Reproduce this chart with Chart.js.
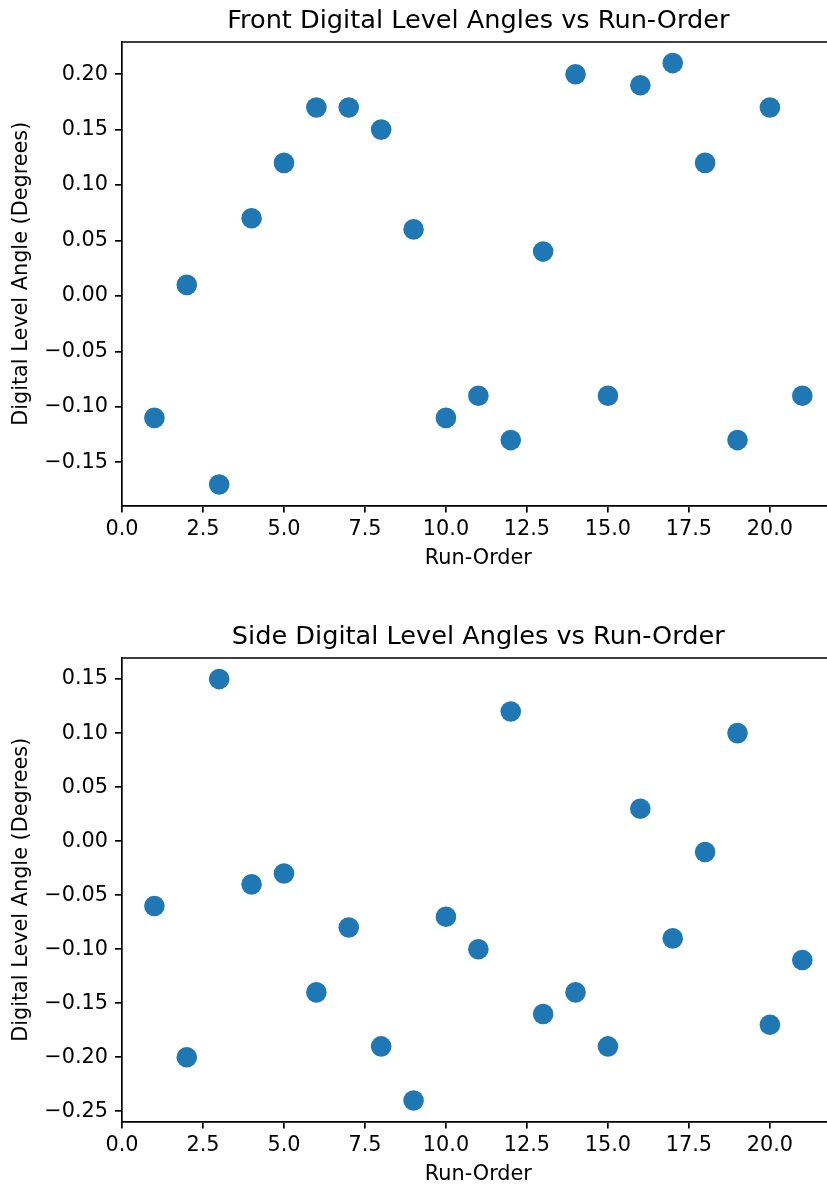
<!DOCTYPE html>
<html><head><meta charset="utf-8">
<script src="https://cdn.jsdelivr.net/npm/chart.js@4.4.1/dist/chart.umd.min.js"></script>
<style>
html,body{margin:0;padding:0;overflow:hidden;background:#fff;width:827px;height:1188px;position:relative}
canvas{position:absolute;left:0}
</style></head>
<body>
<canvas id="c1" style="top:0px"></canvas>
<canvas id="c2" style="top:616px"></canvas>
<script>
const runOrder = [1,2,3,4,5,6,7,8,9,10,11,12,13,14,15,16,17,18,19,20,21];
const frontAngles = [-0.11,0.01,-0.17,0.07,0.12,0.17,0.17,0.15,0.06,-0.11,-0.09,-0.13,0.04,0.20,-0.09,0.19,0.21,0.12,-0.13,0.17,-0.09];
const sideAngles = [-0.06,-0.20,0.15,-0.04,-0.03,-0.14,-0.08,-0.19,-0.24,-0.07,-0.10,0.12,-0.16,-0.14,-0.19,0.03,-0.09,-0.01,0.10,-0.17,-0.11];
const xTicks = [0,2.5,5,7.5,10,12.5,15,17.5,20];
const frontYTicks = [-0.15,-0.10,-0.05,0,0.05,0.10,0.15,0.20];
const sideYTicks = [-0.25,-0.20,-0.15,-0.10,-0.05,0,0.05,0.10,0.15];
const frontTitle = 'Front Digital Level Angles vs Run-Order';
const sideTitle = 'Side Digital Level Angles vs Run-Order';
const xLabel = 'Run-Order';
const yLabel = 'Digital Level Angle (Degrees)';

const FONT = "'DejaVu Sans', sans-serif";
const fmt = (v, d) => { if (Math.abs(v) < 1e-9) v = 0; const s = v.toFixed(d); return s.replace('-', '\u2212'); };

const topSpine = {
  id: 'topSpine',
  afterDraw(chart) {
    const a = chart.chartArea, ctx = chart.ctx;
    ctx.save();
    ctx.strokeStyle = '#000';
    ctx.lineWidth = 1.7;
    ctx.beginPath();
    ctx.moveTo(a.left - 0.85, a.top);
    ctx.lineTo(a.right, a.top);
    ctx.stroke();
    ctx.restore();
  }
};

function makeChart(id, title, values, yTicks, yMin, yMax) {
  const canvas = document.getElementById(id);
  canvas.width = 845; canvas.height = 594;
  return new Chart(canvas, {
    type: 'scatter',
    data: {
      datasets: [{
        data: runOrder.map((x, i) => ({x: x, y: values[i]})),
        backgroundColor: '#1f77b4',
        borderWidth: 0,
        pointRadius: 10.3,
        pointHoverRadius: 10.3
      }]
    },
    options: {
      responsive: false,
      animation: false,
      devicePixelRatio: 1,
      layout: {padding: {top: 0, left: 0, right: 10, bottom: 0}},
      plugins: {
        legend: {display: false},
        tooltip: {enabled: false},
        title: {
          display: true, text: title, color: '#000', fullSize: false,
          font: {family: FONT, size: 25.6, weight: 'normal', lineHeight: 1.2},
          padding: {top: 6, bottom: 5.3}
        }
      },
      scales: {
        x: {
          type: 'linear', min: 0, max: 22,
          afterBuildTicks: s => { s.ticks = xTicks.map(v => ({value: v})); },
          afterFit: s => { s.height = 88.5; },
          ticks: {callback: v => fmt(v, 1), color: '#000', font: {family: FONT, size: 20.8}, padding: 5, maxRotation: 0, autoSkip: false},
          grid: {drawOnChartArea: false, drawTicks: true, tickLength: 7, color: '#000', lineWidth: 1.7},
          border: {display: true, color: '#000', width: 1.7},
          title: {display: true, text: xLabel, color: '#000', font: {family: FONT, size: 20.8, lineHeight: 1.2}, padding: {top: 0, bottom: 23}}
        },
        y: {
          type: 'linear', min: yMin, max: yMax,
          afterBuildTicks: s => { s.ticks = yTicks.map(v => ({value: v})); },
          afterFit: s => { s.width = 122; },
          ticks: {callback: v => fmt(v, 2), color: '#000', font: {family: FONT, size: 20.8}, padding: 7, autoSkip: false},
          grid: {drawOnChartArea: false, drawTicks: true, tickLength: 7, color: '#000', lineWidth: 1.7},
          border: {display: true, color: '#000', width: 1.7},
          title: {display: true, text: yLabel, color: '#000', font: {family: FONT, size: 20.8, lineHeight: 1.2}, padding: {top: 9, bottom: 0}}
        }
      }
    },
    plugins: [topSpine]
  });
}

makeChart('c1', frontTitle, frontAngles, frontYTicks, -0.189, 0.229);
makeChart('c2', sideTitle, sideAngles, sideYTicks, -0.2595, 0.1695);
</script>
</body></html>
